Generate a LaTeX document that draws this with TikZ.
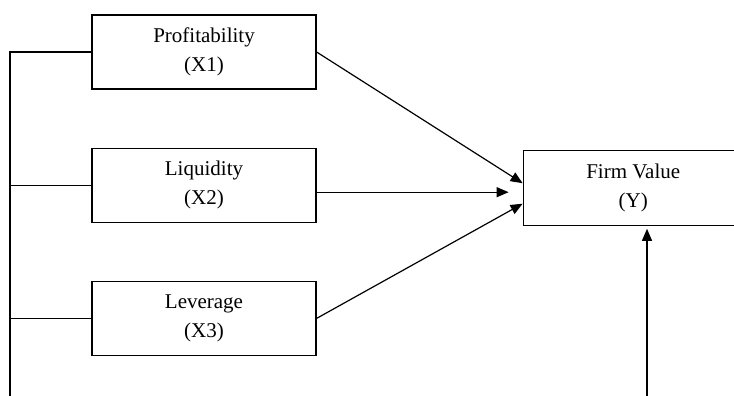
\documentclass[tikz,border=0pt]{standalone}
\usepackage{fontspec}
\setmainfont{Liberation Serif}
\usepackage{tikz}
\usetikzlibrary{arrows.meta, positioning}

\begin{document}
\begin{tikzpicture}[x=1pt, y=-1pt, node distance=58pt]
    \tikzstyle{varbox} = [rectangle, draw=black, line width=1.2pt, minimum width=224pt, minimum height=74pt, align=center, font=\fontsize{21pt}{29pt}\selectfont]
    \tikzstyle{depbox} = [varbox, minimum width=220pt, minimum height=75pt]
    \tikzstyle{arrow} = [line width=1.2pt, -{Triangle[length=12pt, width=10pt]}]
    \tikzstyle{link} = [line width=1.2pt]

    \path[use as bounding box, clip] (0,0) rectangle (734,396);

    \node (x1) [varbox] at (204,52) {Profitability\\(X1)};
    \node (x2) [varbox, below=of x1] {Liquidity\\(X2)};
    \node (x3) [varbox, below=of x2] {Leverage\\(X3)};
    \node (fv) [depbox, right=206pt of x2, yshift=-2.5pt] {Firm Value\\(Y)};

    \coordinate (rail) at (10,396);
    \coordinate (ctrl) at (647,396);

    % left rail
    \draw [link] (x1.west) -| (rail);
    \draw [link] (x2.west) -- (x2.west -| rail);
    \draw [link] (x3.west) -- (x3.west -| rail);

    % paths into Y
    \draw [arrow] (x1.east) -- ([yshift=4.5pt]fv.west);
    \draw [arrow, shorten >=14pt] ([yshift=-7pt]x2.east) -- ([yshift=-7pt]x2.east -| fv.west);
    \draw [arrow] (x3.east) -- ([yshift=-16pt]fv.west);
    \draw [arrow, shorten >=3pt] (ctrl) -- (ctrl |- fv.south);
\end{tikzpicture}
\end{document}
